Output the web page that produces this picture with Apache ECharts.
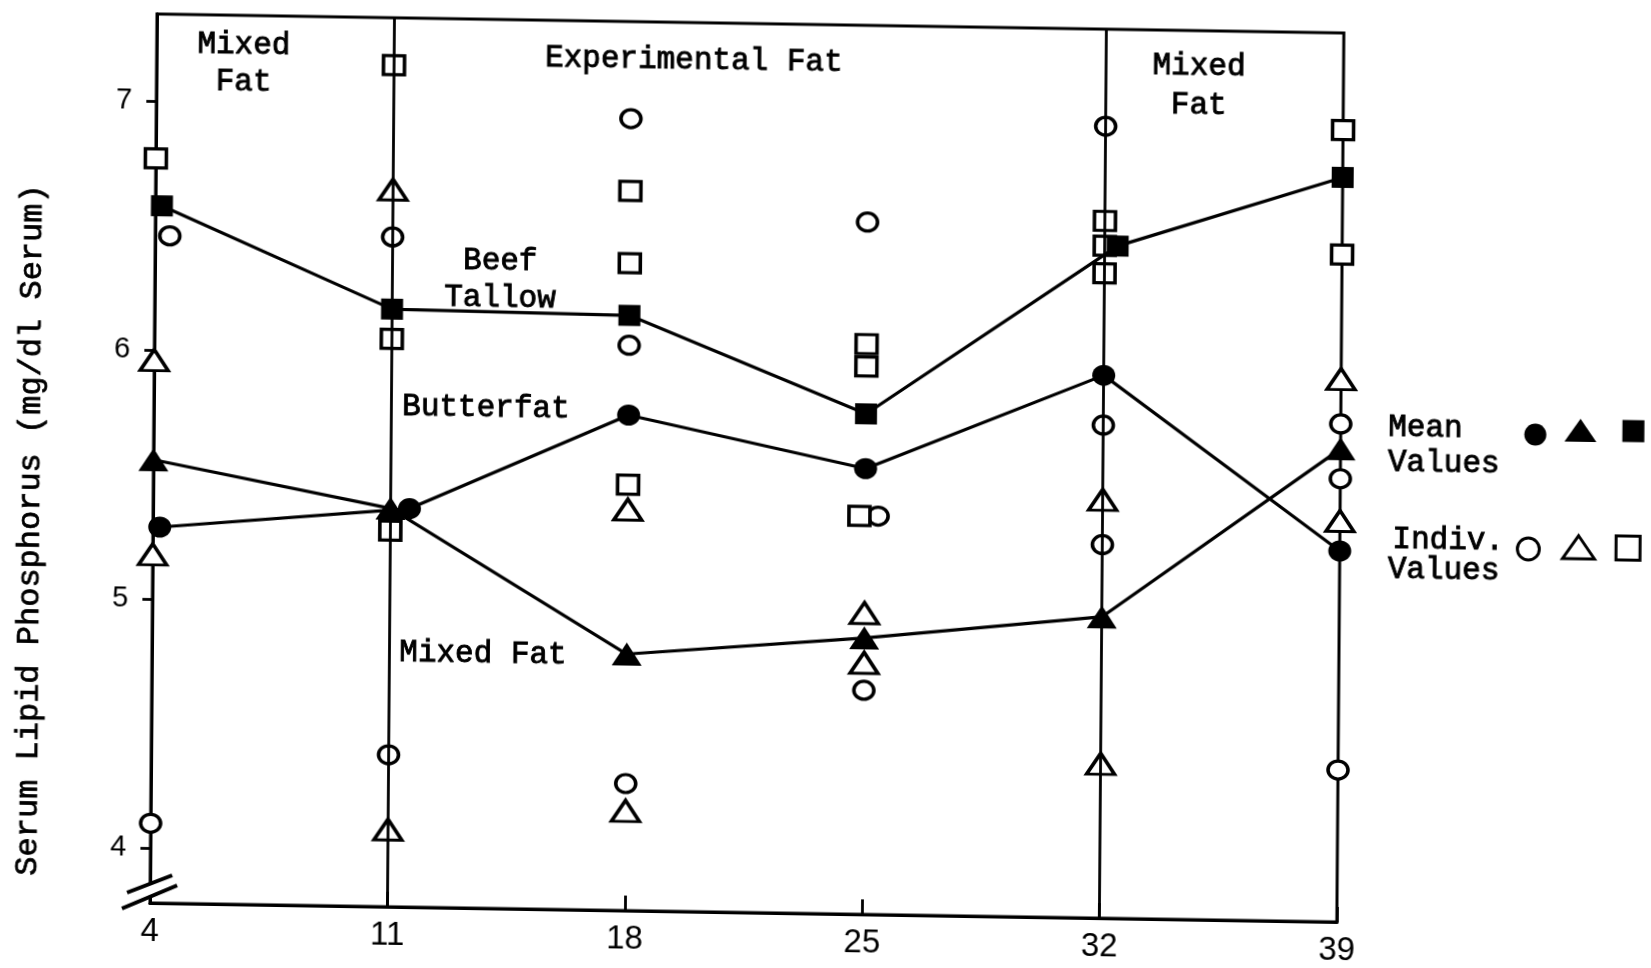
<!DOCTYPE html>
<html><head><meta charset="utf-8">
<script src="https://cdn.jsdelivr.net/npm/echarts@6/dist/echarts.min.js"></script>
<style>
html,body{margin:0;padding:0;background:#fff;overflow:hidden}
#chart{width:1651px;height:968px;transform-origin:150px 903px;transform:matrix(1,0.016,-0.0079,1,0,0);}
</style></head><body><div id="chart"></div>
<script>
// ---- data ----
const days = [4, 11, 18, 25, 32, 39];
const yTicks = [4, 5, 6, 7];
// mean values (filled symbols); X arrays = day position at which each mean is drawn
const butterfatX = [4.2, 11.56, 18, 25, 32, 39];
const butterfatMean = [5.29, 5.38, 5.77, 5.57, 5.96, 5.27];
const mixedFatX = [4, 11, 18, 25, 32, 39];
const mixedFatMean = [5.56, 5.38, 4.81, 4.89, 4.99, 5.68];
const beefTallowX = [4.19, 11, 18, 25, 32.38, 39];
const beefTallowMean = [6.58, 6.18, 6.17, 5.79, 6.48, 6.77];
// individual values [day position, value]
const indivCircles = [[4.43,6.46],[3.85,5.29],[4,4.10],[11,6.47],[11,4.39],[18,6.96],[18,6.05],[18,4.29],
  [25,6.56],[25.38,5.38],[25,4.68],[32,6.96],[32,5.76],[32,5.28],[39,5.78],[39,5.56],[39,4.39]];
const indivTriangles = [[4,5.96],[4,5.18],[11,6.66],[11,4.09],[18,5.39],[18,4.18],[25,4.99],[25,4.79],
  [32,5.46],[32,4.40],[39,5.96],[39,5.39]];
const indivSquares = [[4,6.77],[3.88,6.58],[3.88,6.46],[11,7.16],[11,6.06],[11,5.29],[18,6.67],[18,6.38],[18,5.49],
  [25,6.07],[25,5.98],[24.83,5.38],[32,6.58],[32,6.48],[32,6.37],[39,6.96],[39,6.46]];
const dividerDays = [11, 32];

const zip = (xs, ys) => xs.map((x, i) => [x, ys[i]]);
const black = '#000';
const mono = 'Liberation Mono';

const chart = echarts.init(document.getElementById('chart'), null, {renderer: 'canvas'});

const meanLine = (name, xs, ys, symbol, size) => ({
  name, type: 'line', z: 5, data: zip(xs, ys), symbol, symbolSize: size, showSymbol: true,
  itemStyle: {color: black}, lineStyle: {color: black, width: 3.2}, emphasis: {disabled: true}
});
const indiv = (name, data, symbol, size) => ({
  name, type: 'scatter', z: 3, data, symbol, symbolSize: size,
  itemStyle: {color: '#fff', borderColor: black, borderWidth: 3.4, opacity: 1}, emphasis: {disabled: true}
});

chart.setOption({
  animation: false,
  backgroundColor: '#fff',
  grid: {left: 150, right: 314, top: 14, bottom: 65, show: true, borderColor: black, borderWidth: 3, backgroundColor: 'transparent'},
  xAxis: {
    type: 'value', min: 4, max: 39,
    axisLine: {show: true, onZero: false, lineStyle: {color: black, width: 3}},
    axisTick: {show: true, inside: true, length: 15, customValues: days, lineStyle: {color: black, width: 2.8}},
    axisLabel: {customValues: days, color: black, fontFamily: 'Liberation Sans', fontSize: 33, margin: 12},
    splitLine: {show: false}
  },
  yAxis: {
    type: 'value', min: 3.78, max: 7.35,
    axisLine: {show: true, onZero: false, lineStyle: {color: black, width: 3}},
    axisTick: {show: true, inside: false, length: 10, customValues: yTicks, lineStyle: {color: black, width: 2.8}},
    axisLabel: {customValues: yTicks, color: black, fontFamily: 'Liberation Sans', fontSize: 29, margin: 24},
    splitLine: {show: false}
  },
  series: [
    {name: 'dividers', type: 'line', z: 1, data: [], silent: true,
     markLine: {silent: true, symbol: 'none', label: {show: false},
       lineStyle: {color: black, width: 2.8, type: 'solid', opacity: 1},
       data: dividerDays.map(d => ({xAxis: d}))}},
    indiv('Individual Butterfat', indivCircles, 'circle', [20, 18]),
    indiv('Individual Mixed Fat', indivTriangles, 'triangle', [28, 21]),
    indiv('Individual Beef Tallow', indivSquares, 'rect', [21, 19]),
    meanLine('Butterfat', butterfatX, butterfatMean, 'circle', [23, 21]),
    meanLine('Mixed Fat', mixedFatX, mixedFatMean, 'triangle', [30, 23]),
    meanLine('Beef Tallow', beefTallowX, beefTallowMean, 'rect', [22, 21])
  ]
});

// ---- annotations ----
const px = (d, v) => chart.convertToPixel({gridIndex: 0}, [d, v]);
const txt = (d, v, text, align, size) => {
  const p = px(d, v);
  return {type: 'text', x: p[0], y: p[1], z: 50,
    style: {text, fill: black, stroke: black, lineWidth: 0.9, font: `${size || 31}px "${mono}"`,
      align: align || 'center', verticalAlign: 'middle'}};
};
const g = [];
g.push(txt(6.57, 7.23, 'Mixed'), txt(6.57, 7.08, 'Fat'));
g.push(txt(19.84, 7.20, 'Experimental Fat'));
g.push(txt(34.74, 7.205, 'Mixed'), txt(34.74, 7.05, 'Fat'));
g.push(txt(14.18, 6.38, 'Beef'), txt(14.18, 6.23, 'Tallow'));
g.push(txt(13.79, 5.79, 'Butterfat'));
g.push(txt(13.76, 4.80, 'Mixed Fat'));
g.push(txt(40.40, 5.77, 'Mean', 'left'), txt(40.40, 5.63, 'Values', 'left'));
g.push(txt(40.55, 5.32, 'Indiv.', 'left'), txt(40.42, 5.20, 'Values', 'left'));

// legend keys
const tri = (c, w, h) => [[c[0], c[1] - h / 2], [c[0] + w / 2, c[1] + h / 2], [c[0] - w / 2, c[1] + h / 2]];
const k1 = px(44.74, 5.75), k2 = px(46.07, 5.77), k3 = px(47.63, 5.77);
const k4 = px(44.56, 5.29), k5 = px(46.04, 5.30), k6 = px(47.5, 5.30);
const filled = {fill: black};
const open = {fill: '#fff', stroke: black, lineWidth: 3};
g.push({type: 'circle', z: 50, shape: {cx: k1[0], cy: k1[1], r: 11}, style: filled});
g.push({type: 'polygon', z: 50, shape: {points: tri(k2, 32, 23)}, style: filled});
g.push({type: 'rect', z: 50, shape: {x: k3[0] - 11, y: k3[1] - 11, width: 22, height: 22}, style: filled});
g.push({type: 'circle', z: 50, shape: {cx: k4[0], cy: k4[1], r: 11}, style: open});
g.push({type: 'polygon', z: 50, shape: {points: tri(k5, 32, 23)}, style: open});
g.push({type: 'rect', z: 50, shape: {x: k6[0] - 12, y: k6[1] - 12, width: 24, height: 24}, style: open});

// axis break mark
const o = px(4, 3.78);
const P = (dx, dy) => [o[0] + dx, o[1] + dy];
g.push({type: 'polygon', z: 60, shape: {points: [P(-28, 6), P(27, -18), P(22, -28), P(-23, -10)]}, style: {fill: '#fff'}});
g.push({type: 'line', z: 61, shape: {x1: P(-28, 6)[0], y1: P(-28, 6)[1], x2: P(27, -18)[0], y2: P(27, -18)[1]}, style: {stroke: black, lineWidth: 4}});
g.push({type: 'line', z: 61, shape: {x1: P(-23, -10)[0], y1: P(-23, -10)[1], x2: P(22, -28)[0], y2: P(22, -28)[1]}, style: {stroke: black, lineWidth: 4}});

// y axis title
g.push({type: 'text', x: 28, y: 532, rotation: Math.PI / 2, z: 50,
  style: {text: 'Serum Lipid Phosphorus (mg/dl Serum)', fill: black, stroke: black, lineWidth: 0.7,
    font: `32px "${mono}"`, align: 'center', verticalAlign: 'middle'}});

chart.setOption({graphic: g});
</script></body></html>
